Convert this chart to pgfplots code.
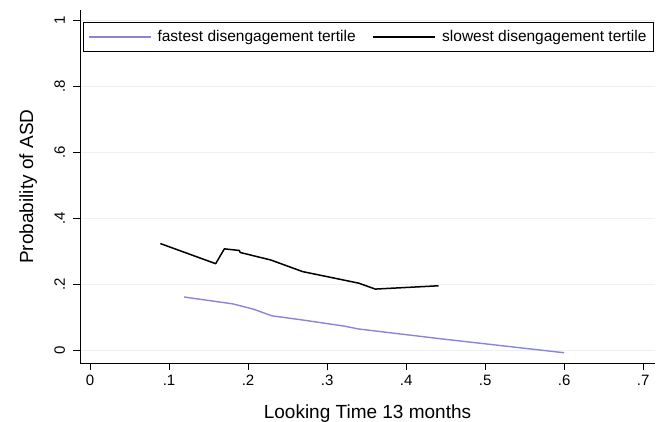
\documentclass[border=0pt]{standalone}
\usepackage{pgfplots}
\pgfplotsset{compat=1.18}
\usepackage{fontspec}
\setmainfont{Liberation Sans}
\definecolor{gridc}{RGB}{234,242,243}
\definecolor{lav}{RGB}{140,132,220}
\begin{document}
\begin{tikzpicture}
\useasboundingbox (-80pt,-57.7pt) rectangle (580pt,363.3pt);
\begin{axis}[
  scale only axis,
  width=575pt, height=353.3pt,
  xmin=-0.0127, xmax=0.715,
  ymin=-0.039, ymax=1.032,
  axis lines=left,
  axis line style={-, line width=0.9pt},
  xtick={0,0.1,0.2,0.3,0.4,0.5,0.6,0.7},
  xticklabels={0,.1,.2,.3,.4,.5,.6,.7},
  ytick={0,0.2,0.4,0.6,0.8,1},
  yticklabels={0,.2,.4,.6,.8,1},
  tick align=outside,
  major tick length=6.5pt,
  tick style={black, line width=0.8pt},
  ymajorgrids,
  grid style={gridc, line width=0.9pt},
  ticklabel style={font=\fontsize{15}{18}\selectfont},
  xticklabel shift=2pt,
  yticklabel shift=5pt,
  yticklabel style={rotate=90, anchor=south},
  xlabel={Looking Time 13 months},
  ylabel={Probability of ASD},
  label style={font=\fontsize{19}{22}\selectfont},
  xlabel style={at={(axis description cs:0.5,-0.1557)}, anchor=base},
  ylabel style={at={(axis description cs:-0.0817,0.5)}, anchor=base, rotate=0},
  legend columns=2,
  legend style={at={(0.0047,0.966)}, anchor=north west, draw=black, line width=0.9pt,
    inner xsep=5pt, inner ysep=6pt,
    font=\fontsize{15.5}{18}\selectfont,
    /tikz/every even column/.append style={column sep=15pt}},
  legend cell align=left,
  legend image code/.code={\draw[#1] (0pt,0pt) -- (62pt,0pt); \path (66pt,0pt);},
]
\addplot[lav, line width=1.4pt, line join=round] coordinates {
(0.119,0.162) (0.181,0.141) (0.207,0.125) (0.230,0.105) (0.270,0.092)
(0.321,0.074) (0.340,0.065) (0.445,0.035) (0.600,-0.007)};
\addlegendentry{fastest disengagement tertile}
\addplot[black, line width=1.5pt, line join=round] coordinates {
(0.089,0.324) (0.159,0.263) (0.170,0.308) (0.189,0.303) (0.190,0.297)
(0.229,0.274) (0.269,0.239) (0.340,0.204) (0.361,0.186) (0.441,0.196)};
\addlegendentry{slowest disengagement tertile}
\end{axis}
\end{tikzpicture}
\end{document}
